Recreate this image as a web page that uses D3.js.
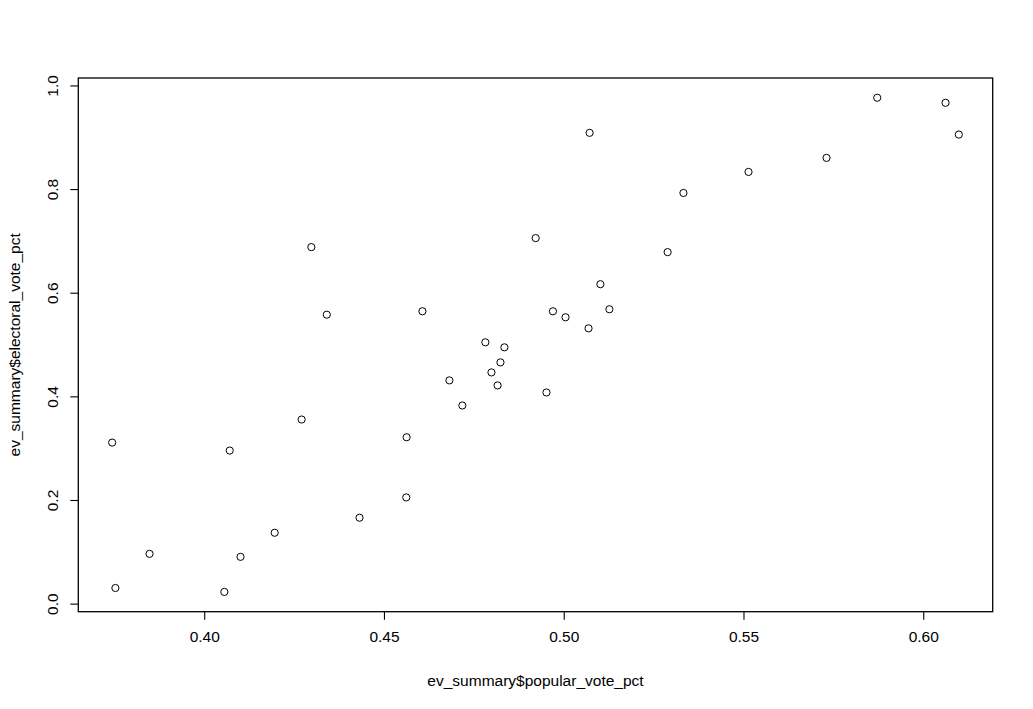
<!DOCTYPE html>
<html>
<head>
<meta charset="utf-8">
<script src="https://cdn.jsdelivr.net/npm/d3@7"></script>
<style>
  html, body { margin: 0; padding: 0; background: #fff; }
  svg text { font-family: "Liberation Sans", Arial, sans-serif; fill: #000; }
</style>
</head>
<body>
<script>
const popularVotePct = [
  0.3744, 0.3753, 0.3848, 0.4056, 0.4071, 0.4101, 0.4196, 0.4271, 0.4298, 0.4341,
  0.4432, 0.4563, 0.4562, 0.4607, 0.4682, 0.4718, 0.4782, 0.4799, 0.4816, 0.4824,
  0.4835, 0.4922, 0.4952, 0.4970, 0.5005, 0.5069, 0.5072, 0.5102, 0.5127, 0.5289,
  0.5333, 0.5514, 0.5731, 0.5872, 0.6062, 0.6099
];
const electoralVotePct = [
  0.3108, 0.0302, 0.0961, 0.0226, 0.2954, 0.0903, 0.1368, 0.3553, 0.6880, 0.5576,
  0.1658, 0.3211, 0.2050, 0.5642, 0.4308, 0.3824, 0.5043, 0.4462, 0.4211, 0.4656,
  0.4946, 0.7054, 0.4075, 0.5642, 0.5526, 0.5313, 0.9085, 0.6164, 0.5681, 0.6783,
  0.7925, 0.8331, 0.8602, 0.9762, 0.9665, 0.9052
];
const xTicks = [0.40, 0.45, 0.50, 0.55, 0.60];
const yTicks = [0.0, 0.2, 0.4, 0.6, 0.8, 1.0];
const xTitle = "ev_summary$popular_vote_pct";
const yTitle = "ev_summary$electoral_vote_pct";

const W = 1033, H = 709;
const m = { left: 78.3, top: 78, right: 40.3, bottom: 97.3 };
const iw = W - m.left - m.right, ih = H - m.top - m.bottom;
const FS = 15.5;

function padded(arr) {
  const [a, b] = d3.extent(arr);
  const p = (b - a) * 0.04;
  return [a - p, b + p];
}

const x = d3.scaleLinear().domain(padded(popularVotePct)).range([0, iw]);
const y = d3.scaleLinear().domain(padded(electoralVotePct)).range([ih, 0]);

const svg = d3.select("body").append("svg").attr("width", W).attr("height", H);
const g = svg.append("g").attr("transform", `translate(${m.left},${m.top})`);

// box
g.append("rect").attr("x", 0).attr("y", 0).attr("width", iw).attr("height", ih)
  .attr("fill", "none").attr("stroke", "#000").attr("stroke-width", 1.3);

// x axis
const xa = g.append("g").attr("transform", `translate(0,${ih})`)
  .call(d3.axisBottom(x).tickValues(xTicks).tickFormat(d3.format(".2f")).tickSize(8).tickPadding(11));
xa.select(".domain").remove();
xa.selectAll("line").attr("stroke", "#000").attr("stroke-width", 1.1);
xa.selectAll("text").attr("font-size", FS).attr("fill", "#000");

// y axis
const ya = g.append("g")
  .call(d3.axisLeft(y).tickValues(yTicks).tickFormat(d3.format(".1f")).tickSize(8));
ya.select(".domain").remove();
ya.selectAll("line").attr("stroke", "#000").attr("stroke-width", 1.1);
ya.selectAll("text")
  .attr("font-size", FS).attr("fill", "#000")
  .attr("x", null).attr("dy", null)
  .attr("text-anchor", "middle")
  .attr("transform", "translate(-26,0) rotate(-90)")
  .attr("dy", "0.35em");

// titles
svg.append("text").attr("x", m.left + iw / 2).attr("y", 685.5)
  .attr("text-anchor", "middle").attr("font-size", FS).text(xTitle);
svg.append("text")
  .attr("transform", `translate(19.5,${m.top + ih / 2}) rotate(-90)`)
  .attr("text-anchor", "middle").attr("font-size", FS).text(yTitle);

// points
g.selectAll("circle.pt").data(popularVotePct.map((v, i) => [v, electoralVotePct[i]]))
  .enter().append("circle").attr("class", "pt")
  .attr("cx", d => x(d[0])).attr("cy", d => y(d[1]))
  .attr("r", 3.6).attr("fill", "none").attr("stroke", "#000").attr("stroke-width", 1);
</script>
</body>
</html>
